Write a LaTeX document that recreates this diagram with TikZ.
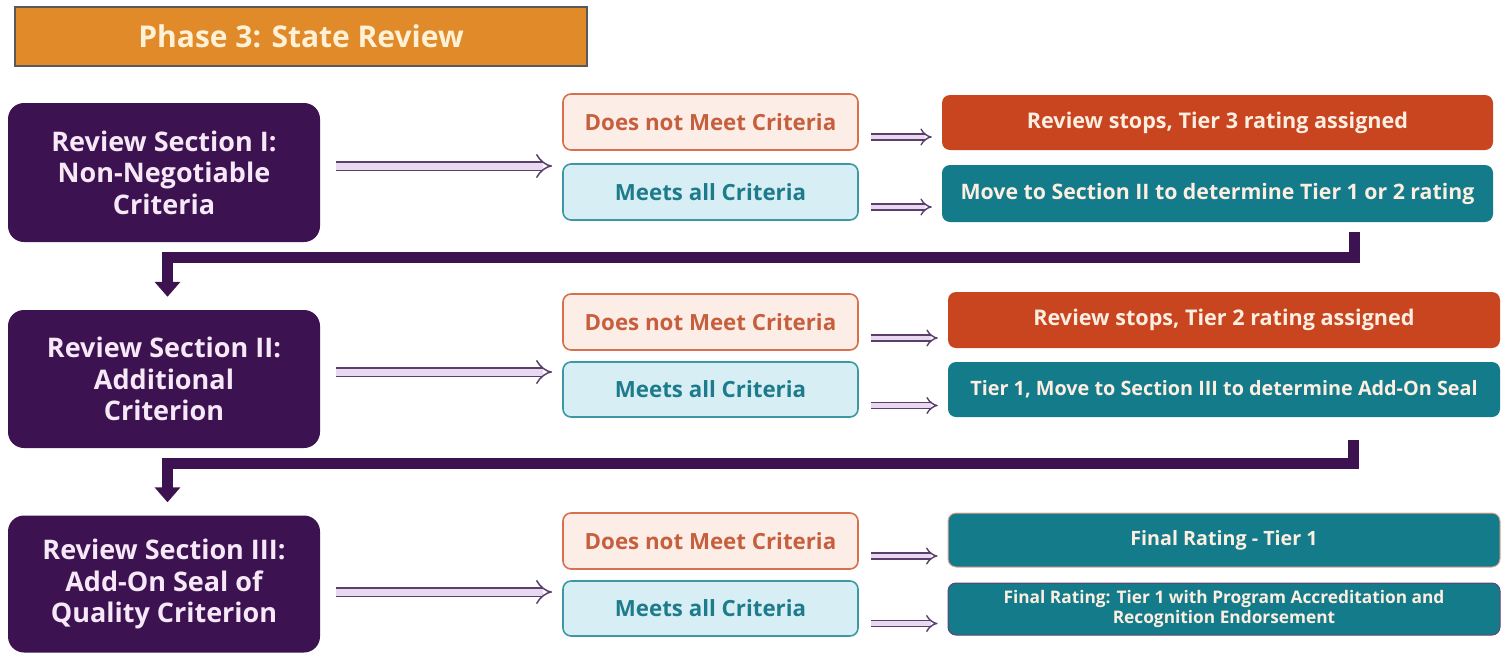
\documentclass[tikz,border=0pt]{standalone}
\usepackage{fontspec}
\setmainfont{Open Sans}
\usetikzlibrary{arrows.meta,calc}
\definecolor{pur}{HTML}{3C1251}
\definecolor{hdr}{HTML}{E08A2A}
\definecolor{hdrtxt}{HTML}{FFF1D6}
\definecolor{red}{HTML}{C8451F}
\definecolor{teal}{HTML}{137B89}
\definecolor{dnmfill}{HTML}{FDEDE7}
\definecolor{dnmdraw}{HTML}{D8704F}
\definecolor{dnmtxt}{HTML}{C65F3E}
\definecolor{mfill}{HTML}{D6EEF4}
\definecolor{mdraw}{HTML}{3B99A4}
\definecolor{mtxt}{HTML}{1E7B8B}
\definecolor{lav}{HTML}{E8D9F1}
\definecolor{lavd}{HTML}{5A3E6C}
\definecolor{ptxt}{HTML}{F6E8F6}
\definecolor{rtxt}{HTML}{FDEEE2}
\tikzset{
  x=1pt,y=-1pt,
  base/.style={rectangle,inner sep=0pt,align=center,font=\bfseries},
  header/.style={base,fill=hdr,draw=black!65,line width=1.5pt,minimum width=572pt,minimum height=59pt,text=hdrtxt,font=\fontsize{30}{34}\selectfont\bfseries},
  sect/.style={base,fill=pur,rounded corners=16pt,minimum width=312pt,text=ptxt,font=\fontsize{27}{31.5}\selectfont\bfseries},
  dnm/.style={base,fill=dnmfill,draw=dnmdraw,line width=1.6pt,rounded corners=8pt,minimum width=295pt,minimum height=56pt,text=dnmtxt,font=\fontsize{22.3}{24}\selectfont\bfseries},
  meets/.style={base,fill=mfill,draw=mdraw,line width=1.6pt,rounded corners=8pt,minimum width=295pt,minimum height=56pt,text=mtxt,font=\fontsize{22.3}{24}\selectfont\bfseries},
  resr/.style={base,fill=red,rounded corners=8pt,text=rtxt,font=\fontsize{21.6}{24}\selectfont\bfseries},
  rest/.style={base,fill=teal,rounded corners=8pt,text=rtxt,font=\fontsize{21.3}{24}\selectfont\bfseries},
  bigarrow/.style={draw=lavd,line width=1.5pt,double=lav,double distance=7pt,-{Implies}},
  smallarrow/.style={draw=lavd,line width=1.4pt,double=lav,double distance=4.5pt,-{Implies}},
  conn/.style={draw=pur,line width=11pt,-{Triangle[width=25pt,length=15pt]}}
}
\begin{document}
\begin{tikzpicture}
\useasboundingbox (0,0) rectangle (1510,654);
\node[header] (H) at (301,36.5) {Phase 3: State Review};

\node[sect,minimum height=139pt] (B1) at (164,172.5) {Review Section I:\\Non-Negotiable\\Criteria};
\node[sect,minimum height=138pt] (B2) at (164,379) {Review Section II:\\Additional\\Criterion};
\node[sect,minimum height=137pt] (B3) at (164,584) {Review Section III:\\Add-On Seal of\\Quality Criterion};

\node[dnm] (D1) at (710.5,122) {Does not Meet Criteria};
\node[meets] (M1) at (710.5,192) {Meets all Criteria};
\node[dnm] (D2) at (710.5,322) {Does not Meet Criteria};
\node[meets,minimum height=55pt] (M2) at (710.5,389.5) {Meets all Criteria};
\node[dnm] (D3) at (710.5,541) {Does not Meet Criteria};
\node[meets,minimum height=55pt] (M3) at (710.5,608.5) {Meets all Criteria};

\node[resr,minimum width=551pt,minimum height=55pt] (R1a) at (1217.5,122.5) {Review stops, Tier 3 rating assigned};
\node[rest,minimum width=551pt,minimum height=57pt] (R1b) at (1217.5,193.5) {Move to Section II to determine Tier 1 or 2 rating};
\node[resr,minimum width=552pt,minimum height=56pt] (R2a) at (1224,320) {Review stops, Tier 2 rating assigned};
\node[rest,minimum width=552pt,minimum height=55pt,font=\fontsize{19.8}{22}\selectfont\bfseries] (R2b) at (1224,389.5) {Tier 1, Move to Section III to determine Add-On Seal};
\node[rest,draw=dnmdraw!60,line width=1pt,minimum width=552pt,minimum height=54pt,font=\fontsize{19.7}{22}\selectfont\bfseries] (R3a) at (1224,540) {Final Rating - Tier 1};
\node[rest,draw=pur!80,line width=1pt,minimum width=552pt,minimum height=52pt,font=\fontsize{17.3}{19.5}\selectfont\bfseries] (R3b) at (1224,609) {Final Rating: Tier 1 with Program Accreditation and\\Recognition Endorsement};

% big arrows
\coordinate (m1) at (563,166);
\coordinate (m2) at (563,372);
\coordinate (m3) at (563,592);
\draw[bigarrow] ([xshift=16pt]B1.east |- m1) -- ([xshift=-11pt]m1);
\draw[bigarrow] ([xshift=16pt]B2.east |- m2) -- ([xshift=-11pt]m2);
\draw[bigarrow] ([xshift=16pt]B3.east |- m3) -- ([xshift=-11pt]m3);

% small arrows
\foreach \a/\b/\dy in {D1/R1a/-15,M1/R1b/-15,D2/R2a/-16,M2/R2b/-16,D3/R3a/-15,M3/R3b/-15}{
  \coordinate (s) at ([xshift=12pt,yshift=\dy pt]\a.east);
  \draw[smallarrow,shorten >=10pt] (s) -- (s -| \b.west);
}

% connectors
\coordinate (c1) at (1354,232);
\coordinate (h1) at (167.5,257.5);
\draw[conn] (c1) |- (h1) -- ([yshift=13pt]h1 |- B2.north);
\coordinate (c2) at (1353,440);
\coordinate (h2) at (167.5,463);
\draw[conn] (c2) |- (h2) -- ([yshift=13pt]h2 |- B3.north);
\end{tikzpicture}
\end{document}
